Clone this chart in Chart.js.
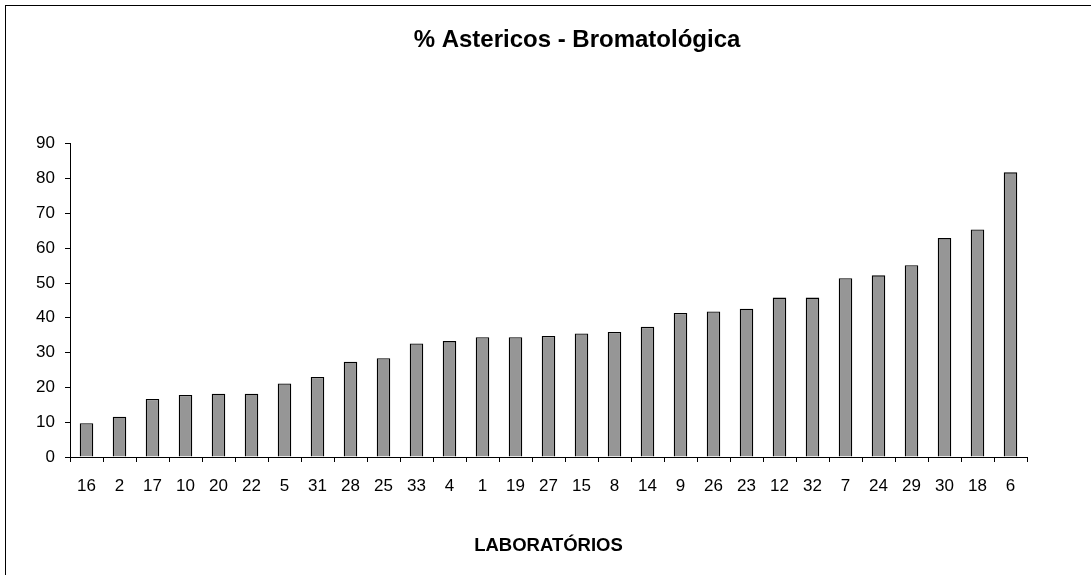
<!DOCTYPE html>
<html>
<head>
<meta charset="utf-8">
<script src="https://cdn.jsdelivr.net/npm/chart.js@4"></script>
<style>
html,body{margin:0;padding:0;background:#fff}
#wrap{width:1091px;height:575px;position:relative}
</style>
</head>
<body>
<div id="wrap"><canvas id="chart"></canvas></div>
<script>
// labs in the order shown on the axis
const labs = ["16","2","17","10","20","22","5","31","28","25","33","4","1","19","27","15","8","14","9","26","23","12","32","7","24","29","30","18","6"]
// % asterisks per lab
const percent = [9.7,11.6,16.7,17.8,18.2,18.2,21.1,23.0,27.4,28.4,32.6,33.3,34.4,34.4,34.8,35.5,35.9,37.4,41.4,41.8,42.6,45.8,45.8,51.4,52.2,55.1,62.9,65.4,81.8]
const yTicks = [0,10,20,30,40,50,60,70,80,90]

const font = "'Liberation Sans', Arial, sans-serif"

/* frame round the chart (only left and top edges show) + title centred on the frame */
const framePlugin = {
id:"frame",
afterLayout(chart){
if(chart.titleBlock){
chart.titleBlock.left = 63
chart.titleBlock.right = chart.width
}
},
beforeDraw(chart){
const c = chart.ctx
c.save()
c.fillStyle = "#fff"
c.fillRect(0,0,chart.width,chart.height)
c.strokeStyle = "#000"
c.lineWidth = 1
c.strokeRect(5.5,5.5,chart.width+20,chart.height+20)
c.restore()
}
}

const ctx = document.getElementById("chart").getContext("2d")

new Chart(ctx,{
type:"bar",
data:{
labels:labs,
datasets:[{
data:percent,
backgroundColor:"#969696",
borderColor:"#000",
borderWidth:1.3,
barPercentage:0.41,
categoryPercentage:1
}]
},
options:{
responsive:true,
maintainAspectRatio:false,
animation:false,
layout:{padding:{left:0,right:64,top:0,bottom:0}},
plugins:{
legend:{display:false},
tooltip:{enabled:false},
title:{
display:true,
text:"% Astericos - Bromatológica",
color:"#000",
font:{family:font,size:24,weight:"bold"},
padding:{top:26,bottom:89}
}
},
scales:{
x:{
grid:{display:true,drawOnChartArea:false,drawTicks:true,tickLength:5,color:"#000",offset:true},
border:{display:true,color:"#000",width:1},
ticks:{color:"#000",font:{family:font,size:17},padding:14,maxRotation:0,autoSkip:false},
title:{display:true,text:"LABORATÓRIOS",color:"#000",font:{family:font,size:18.5,weight:"bold"},padding:{top:0,bottom:18}},
afterFit(scale){ scale.height = 118 }
},
y:{
min:0,
max:90,
afterBuildTicks(scale){ scale.ticks = yTicks.map(v => ({value:v})) },
grid:{display:true,drawOnChartArea:false,drawTicks:true,tickLength:5,color:"#000"},
border:{display:true,color:"#000",width:1},
ticks:{color:"#000",font:{family:font,size:17},padding:10},
afterFit(scale){ scale.width = 70 }
}
}
},
plugins:[framePlugin]
})
</script>
</body>
</html>
